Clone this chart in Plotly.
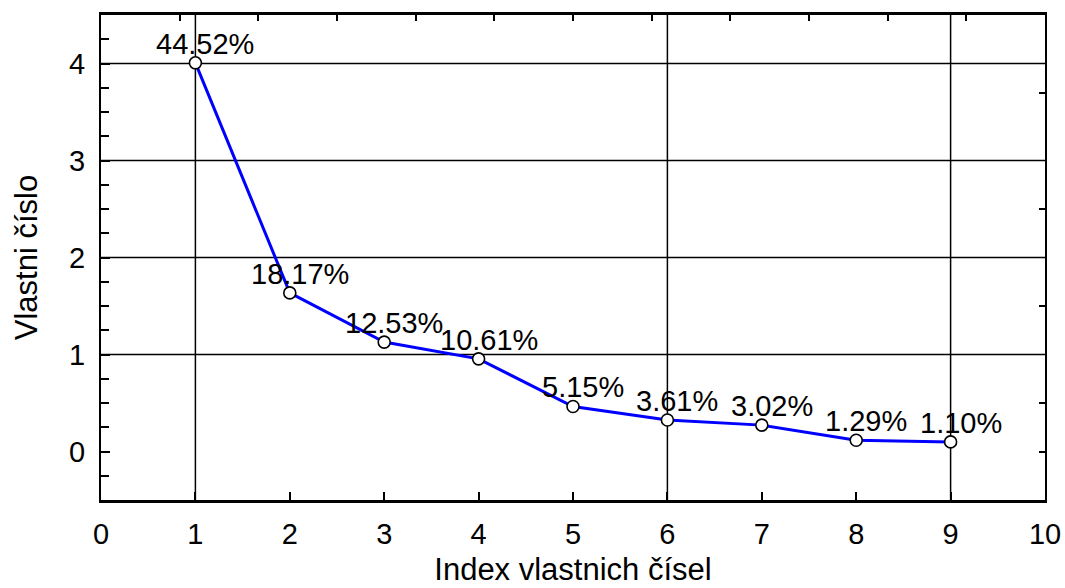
import plotly.graph_objects as go

# Eigenvalue scree plot
index = [1, 2, 3, 4, 5, 6, 7, 8, 9]
eigenvalues = [4.007, 1.635, 1.128, 0.955, 0.464, 0.325, 0.272, 0.116, 0.099]
pct_labels = ["44.52%", "18.17%", "12.53%", "10.61%", "5.15%",
              "3.61%", "3.02%", "1.29%", "1.10%"]

x_ticks = [0, 1, 2, 3, 4, 5, 6, 7, 8, 9, 10]
y_ticks = [0, 1, 2, 3, 4]
grid_x = [1, 6, 9]
grid_y = [1, 2, 3, 4]
right_ticks = [0, 0.5, 1.5, 2.5, 3.7]

FONT = "Arial, Liberation Sans, sans-serif"

fig = go.Figure()

fig.add_trace(go.Scatter(
    x=index, y=eigenvalues, mode="lines+markers",
    line=dict(color="#0000ff", width=3),
    marker=dict(symbol="circle", size=12, color="white",
                line=dict(color="black", width=1.6)),
    hoverinfo="x+y", showlegend=False,
))

# secondary axes carrying the mirrored tick marks on the top and right
fig.add_trace(go.Scatter(x=[], y=[], xaxis="x2", yaxis="y2",
                         showlegend=False, hoverinfo="skip"))

for xv, yv, txt in zip(index, eigenvalues, pct_labels):
    fig.add_annotation(x=xv, y=yv, text=txt, showarrow=False,
                       xanchor="center", yanchor="bottom",
                       xshift=10, yshift=1,
                       font=dict(family=FONT, size=29, color="black"))

shapes = []
for gx in grid_x:
    shapes.append(dict(type="line", xref="x", yref="paper", x0=gx, x1=gx,
                       y0=0, y1=1, layer="below",
                       line=dict(color="black", width=1.5)))
for gy in grid_y:
    shapes.append(dict(type="line", xref="paper", yref="y", x0=0, x1=1,
                       y0=gy, y1=gy, layer="below",
                       line=dict(color="black", width=1.5)))

fig.update_layout(
    width=1065, height=588,
    margin=dict(l=101, r=20, t=15, b=88),
    paper_bgcolor="white", plot_bgcolor="white",
    font=dict(family=FONT, color="black"),
    shapes=shapes,
    xaxis=dict(
        range=[0, 10], tickvals=x_ticks, ticks="inside", ticklen=8,
        tickwidth=2, tickcolor="black", showgrid=False, zeroline=False,
        showline=True, linecolor="black", linewidth=3, mirror=True,
        tickfont=dict(family=FONT, size=29), automargin=False,
        title=dict(text="Index vlastnich čísel",
                   font=dict(family=FONT, size=31), standoff=10),
        ticklabelstandoff=6,
    ),
    yaxis=dict(
        range=[-0.5, 4.5], tickvals=y_ticks, ticks="inside", ticklen=9,
        tickwidth=2, tickcolor="black", showgrid=False, zeroline=False,
        showline=True, linecolor="black", linewidth=2, mirror=True,
        minor=dict(dtick=0.25, ticks="inside", ticklen=8, tickwidth=1.5,
                   tickcolor="black", showgrid=False),
        tickfont=dict(family=FONT, size=29), automargin=False,
        title=dict(text="Vlastni číslo",
                   font=dict(family=FONT, size=31), standoff=22),
        ticklabelstandoff=8,
    ),
    xaxis2=dict(
        overlaying="x", side="top", range=[0, 12], dtick=1,
        ticks="inside", ticklen=6, tickwidth=2, tickcolor="black",
        showticklabels=False, showgrid=False, zeroline=False,
        showline=False, automargin=False,
    ),
    yaxis2=dict(
        overlaying="y", side="right", range=[-0.5, 4.5],
        tickvals=right_ticks, ticks="inside", ticklen=6, tickwidth=2,
        tickcolor="black", showticklabels=False, showgrid=False,
        zeroline=False, showline=False, automargin=False,
    ),
)

fig.write_html("out.html")
